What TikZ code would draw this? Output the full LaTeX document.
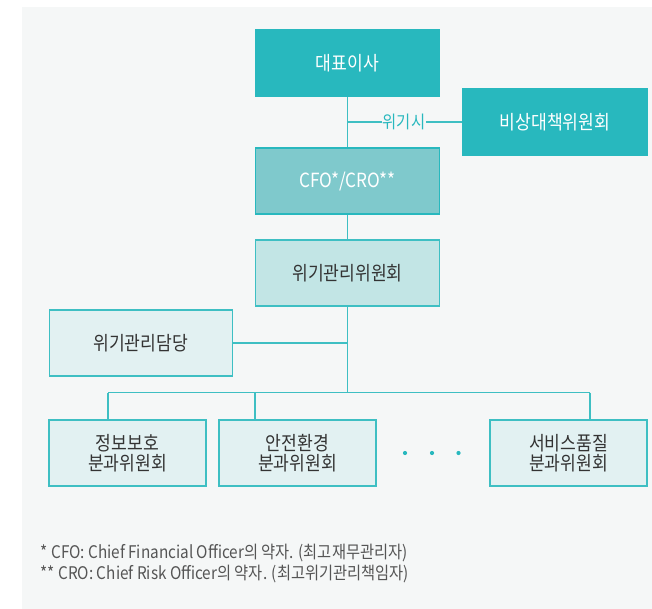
\documentclass[tikz,border=0pt]{standalone}
\usepackage{fontspec}
\setmainfont{Noto Sans CJK KR}[FakeStretch=0.88]
\usepackage{xcolor}
\usetikzlibrary{positioning,calc}

\definecolor{bgGray}{HTML}{F5F7F7}
\definecolor{tealDark}{HTML}{28B8BE}
\definecolor{tealMid}{HTML}{7FC9CC}
\definecolor{tealPale}{HTML}{C2E5E5}
\definecolor{tealLight}{HTML}{E2F1F2}
\definecolor{tealLine}{HTML}{3EBFC3}
\definecolor{boxText}{HTML}{333333}
\definecolor{noteText}{HTML}{555555}

\tikzset{
  orgbox/.style={draw=tealLine,line width=1.1pt,inner sep=0pt,
    font=\fontsize{19.5}{20}\selectfont,align=center,text=boxText},
  topbox/.style={orgbox,fill=tealDark,draw=tealDark,text=white,
    minimum width=184pt,minimum height=66pt},
  cfobox/.style={orgbox,fill=tealMid,draw=tealDark,text=white,
    minimum width=184pt,minimum height=66pt},
  midbox/.style={orgbox,fill=tealPale,minimum width=184pt,minimum height=66pt},
  subbox/.style={orgbox,fill=tealLight,minimum width=157pt,minimum height=66pt},
  link/.style={draw=tealLine,line width=1.1pt},
  note/.style={anchor=west,inner sep=0pt,text=noteText,
    font=\fontsize{17.4}{18}\selectfont}
}

\begin{document}
\begin{tikzpicture}[x=1pt,y=-1pt]
        \useasboundingbox (0,0) rectangle (652,609);
        \fill[bgGray] (22,7) rectangle (652,609);

        % Top level
        \node[topbox] (ceo) at (347.5,63) {대표이사};
        \node[topbox] (emerg) at (555,122) {비상대책위원회};
        \node[inner sep=1pt,text=tealDark,font=\fontsize{17.5}{18}\selectfont] (crisis) at (404,122) {위기시};
        \node[cfobox] (cfo) at (347.5,181) {CFO*/CRO**};

        % Committee
        \node[midbox] (rmc) at (347.5,273) {위기관리위원회};
        \node[subbox,minimum width=183pt] (rmd) at (140.7,343) {위기관리담당};

        % Sub-committees
        \node[subbox] (sub1) at (127.5,453) {정보보호\\분과위원회};
        \node[subbox] (sub2) at (297.5,453) {안전환경\\분과위원회};
        \node[subbox] (sub3) at (568.5,453) {서비스품질\\분과위원회};
        \foreach \dx [count=\i] in {405,432,458.5}
            \fill[tealDark] (\dx,453) circle (2.1pt);

        % Connectors
        \coordinate (crisisjoin) at (347.5,122);
        \coordinate (bus) at (347.5,392.7);
        \coordinate (bus1) at (108,392.7);
        \coordinate (bus2) at (255,392.7);
        \coordinate (bus3) at (590,392.7);
        \draw[link] (ceo) -- (cfo);
        \draw[link] (crisisjoin) -- (crisis.west);
        \draw[link] (crisis.east) -- (emerg.west);
        \draw[link] (cfo) -- (rmc);
        \draw[link] (rmc) -- (bus);
        \draw[link] (rmd.east) -- (rmd.east -| bus);
        \draw[link] (bus1) -- (bus3);
        \draw[link] (bus1) -- (bus1 |- sub1.north);
        \draw[link] (bus2) -- (bus2 |- sub2.north);
        \draw[link] (bus3) -- (bus3 |- sub3.north);

        % Footnotes
        \node[note] (note1) at (40.5,553) {* CFO: Chief Financial Officer의 약자. (최고재무관리자)};
        \node[note] (note2) at (40.5,574) {** CRO: Chief Risk Officer의 약자. (최고위기관리책임자)};
\end{tikzpicture}
\end{document}
